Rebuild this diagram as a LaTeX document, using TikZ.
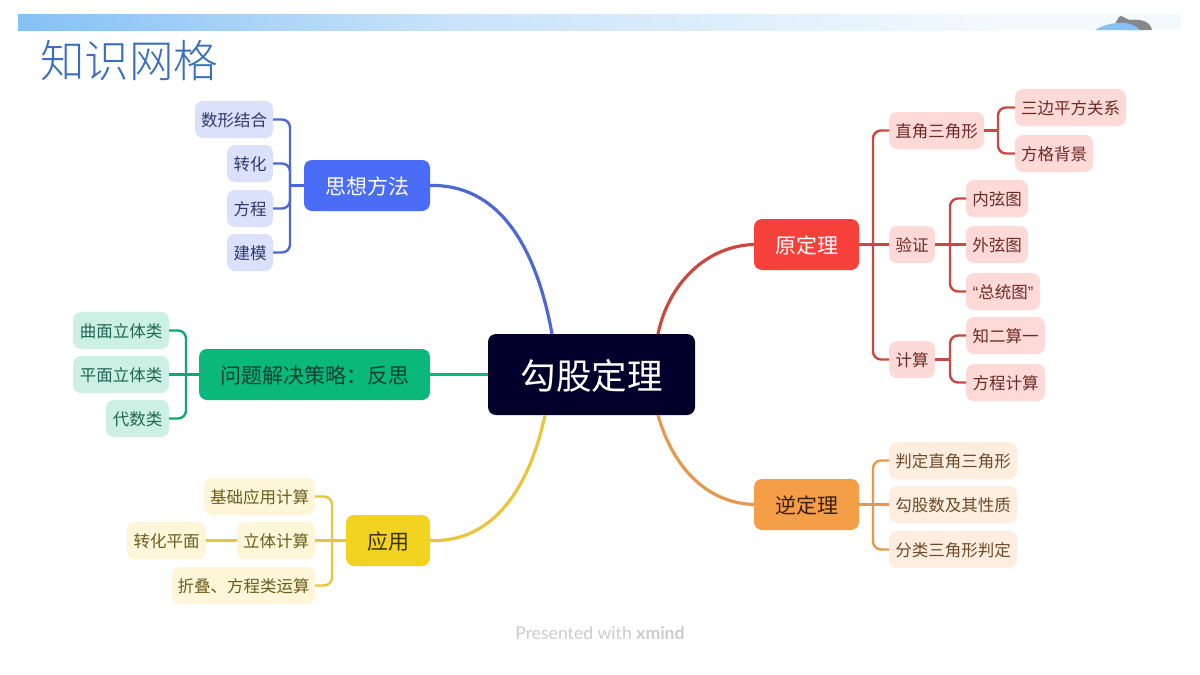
\documentclass[tikz,border=0pt]{standalone}
\usepackage{fontspec}
\setmainfont{Noto Sans CJK SC}
\newfontfamily\titlef{Noto Sans CJK SC Light}
\newfontfamily\latinf{Lato}
\newfontfamily\quotef{Liberation Sans}
\usetikzlibrary{calc}
\definecolor{bline}{HTML}{4E68D2}\definecolor{bmain}{HTML}{4A6CF7}\definecolor{bleaf}{HTML}{DBE0FB}\definecolor{btext}{HTML}{2F3A6A}
\definecolor{rline}{HTML}{C9483F}\definecolor{rmain}{HTML}{F5413A}\definecolor{rleaf}{HTML}{FDD9D7}\definecolor{rtext}{HTML}{6B2A28}
\definecolor{gline}{HTML}{10A678}\definecolor{gmain}{HTML}{0AB87C}\definecolor{gleaf}{HTML}{CCF0E4}\definecolor{gtext}{HTML}{1F6650}\definecolor{gdark}{HTML}{123F30}
\definecolor{yline}{HTML}{E8C53A}\definecolor{ymain}{HTML}{F2D31F}\definecolor{yleaf}{HTML}{FDF6D8}\definecolor{ytext}{HTML}{6B5D1E}\definecolor{ydark}{HTML}{3A3000}
\definecolor{oline}{HTML}{E39A50}\definecolor{omain}{HTML}{F59E48}\definecolor{oleaf}{HTML}{FDEEE0}\definecolor{otext}{HTML}{6E4A2A}\definecolor{odark}{HTML}{3D1D00}
\definecolor{rootc}{HTML}{00002A}\definecolor{titlec}{HTML}{3A6FC0}
\definecolor{band1}{HTML}{85C1F5}\definecolor{band2}{HTML}{C8E3FA}\definecolor{band3}{HTML}{F3FAFE}
\tikzset{
 boxn/.style={inner sep=0pt,outer sep=0pt,rounded corners=8pt,align=center},
 leafn/.style={boxn,font=\fontsize{16.5}{16.5}\selectfont},
 mainn/.style={boxn,font=\fontsize{21}{21}\selectfont},
 bleafn/.style={leafn,fill=bleaf,text=btext},
 rleafn/.style={leafn,fill=rleaf,text=rtext},
 gleafn/.style={leafn,fill=gleaf,text=gtext},
 yleafn/.style={leafn,fill=yleaf,text=ytext},
 oleafn/.style={leafn,fill=oleaf,text=otext},
 conn/.style={line width=2.4pt,rounded corners=8pt},
 bconn/.style={conn,draw=bline},
 rconn/.style={conn,draw=rline},
 gconn/.style={conn,draw=gline},
 yconn/.style={conn,draw=yline},
 oconn/.style={conn,draw=oline},
 curve/.style={line width=3.2pt},
}
\newcommand\nd[7]{\node[#1,minimum width={(#4-#3)*1pt},minimum height={(#6-#5)*1pt},text depth=0pt] (#2) at ({(#3+#4)/2},{(#5+#6)/2}) {\raisebox{-0.6pt}{#7}};}
\begin{document}
\begin{tikzpicture}[x=1pt,y=-1pt]
\useasboundingbox (0,0) rectangle (1200,675);
\fill[white] (0,0) rectangle (1200,675);
% header band
\shade[left color=band1,right color=band2] (18,14) rectangle (450,30);
\shade[left color=band2,right color=band3] (450,14) rectangle (1000,30);
\fill[band3] (1000,14) rectangle (1181,30);
\fill[gray!90!black!85] (1115,24) .. controls (1117,20) and (1119,16) .. (1121,16) .. controls (1125,17) and (1127,20) .. (1131,20) .. controls (1138,19) and (1150,20) .. (1152,30) -- (1125,30) -- cycle;
\fill[band1] (1095,30) .. controls (1103,25) and (1115,22) .. (1126,23) .. controls (1132,24) and (1137,27) .. (1140,30) -- cycle;
% title
\node[inner sep=0pt,anchor=west,text=titlec,font=\titlef\fontsize{44.5}{44.5}\selectfont] (title) at (40,61) {知识网格};
% footer
\node[inner sep=0pt,text=gray!40,font=\latinf\fontsize{17.6}{17.6}\selectfont] (foot) at (600,633) {Presented with \textbf{xmind}};
% main boxes
\nd{boxn,fill=rootc,text=white,font=\fontsize{35.5}{35.5}\selectfont}{root}{488}{695}{334}{415}{勾股定理}
\nd{mainn,fill=bmain,text=white}{mb}{304}{430}{160}{211}{思想方法}
\nd{mainn,fill=rmain,text=white}{mr}{754}{859}{219}{270}{原定理}
\nd{mainn,fill=gmain,text=gdark}{mg}{199}{430}{349}{400}{问题解决策略：反思}
\nd{mainn,fill=ymain,text=ydark}{my}{346}{430}{515}{566}{应用}
\nd{mainn,fill=omain,text=odark}{mo}{754}{859}{479}{530}{逆定理}
\coordinate (rb) at (552,334);\coordinate (rr) at (658,334);\coordinate (ry) at (545,415);\coordinate (ro) at (658,415);
\draw[curve,draw=bline] (mb.east) .. controls (495,184) and (535,240) .. (rb);
\draw[curve,draw=rline] (mr.west) .. controls (705,246) and (668,285) .. (rr);
\draw[curve,draw=gmain] (mg.east) -- (root.west);
\draw[curve,draw=yline] (my.east) .. controls (495,543) and (530,485) .. (ry);
\draw[curve,draw=oline] (mo.west) .. controls (705,503) and (672,465) .. (ro);
% blue leaves
\nd{bleafn}{b1}{195}{273}{101}{138}{数形结合}
\nd{bleafn}{b2}{227}{273}{145}{182}{转化}
\nd{bleafn}{b3}{227}{273}{190}{227}{方程}
\nd{bleafn}{b4}{227}{273}{234}{271}{建模}
\coordinate (tb) at (290,185.5);
\draw[bconn] (b1.east) -| (tb);
\draw[bconn] (b4.east) -| (tb);
\draw[bconn] (b2.east) -| (tb);
\draw[bconn] (b3.east) -| (tb);
\draw[bconn] (tb) -- (mb.west);
% green leaves
\nd{gleafn}{g1}{73}{169}{312}{349}{曲面立体类}
\nd{gleafn}{g2}{73}{169}{356}{393}{平面立体类}
\nd{gleafn}{g3}{106}{169}{400}{437}{代数类}
\coordinate (tg) at (186,374.5);
\draw[gconn] (g1.east) -| (tg);
\draw[gconn] (g3.east) -| (tg);
\draw[gconn] (g2.east) -- (mg.west);
% yellow leaves
\nd{yleafn}{y1}{204}{315}{478}{515}{基础应用计算}
\nd{yleafn}{y2}{237}{315}{522}{559}{立体计算}
\nd{yleafn}{y3}{127}{206}{522}{559}{转化平面}
\nd{yleafn}{y4}{172}{315}{567}{604}{折叠、方程类运算}
\coordinate (ty) at (332,540.5);
\draw[yconn] (y1.east) -| (ty);
\draw[yconn] (y4.east) -| (ty);
\draw[yconn] (y2.east) -- (my.west);
\draw[yconn] (y3.east) -- (y2.west);
% red leaves
\nd{rleafn}{r1}{889}{984}{112}{149}{直角三角形}
\nd{rleafn}{r2}{889}{935}{226}{263}{验证}
\nd{rleafn}{r3}{889}{935}{341}{378}{计算}
\nd{rleafn}{r11}{1015}{1126}{89}{126}{三边平方关系}
\nd{rleafn}{r12}{1015}{1093}{135}{172}{方格背景}
\nd{rleafn}{r21}{966}{1028}{180}{217}{内弦图}
\nd{rleafn}{r22}{966}{1028}{226}{263}{外弦图}
\nd{rleafn}{r23}{966}{1040}{273}{310}{{\quotef “}总统图{\quotef ”}}
\nd{rleafn}{r31}{966}{1045}{317}{354}{知二算一}
\nd{rleafn}{r32}{966}{1045}{364}{401}{方程计算}
\coordinate (tr) at (873,244.5);
\coordinate (tr1) at (998,130.5);
\coordinate (tr2) at (950,244.5);
\coordinate (tr3) at (950,359.5);
\draw[rconn] (tr) |- (r1.west);
\draw[rconn] (tr) |- (r3.west);
\draw[rconn] (mr.east) -- (r2.west);
\draw[rconn] (r1.east) -- (tr1);
\draw[rconn] (tr1) |- (r11.west);
\draw[rconn] (tr1) |- (r12.west);
\draw[rconn] (r2.east) -- (r22.west);
\draw[rconn] (tr2) |- (r21.west);
\draw[rconn] (tr2) |- (r23.west);
\draw[rconn] (r3.east) -- (tr3);
\draw[rconn] (tr3) |- (r31.west);
\draw[rconn] (tr3) |- (r32.west);
% orange leaves
\nd{oleafn}{o1}{889}{1017}{442}{479}{判定直角三角形}
\nd{oleafn}{o2}{889}{1017}{486}{523}{勾股数及其性质}
\nd{oleafn}{o3}{889}{1017}{531}{568}{分类三角形判定}
\coordinate (to) at (873,504.5);
\draw[oconn] (to) |- (o1.west);
\draw[oconn] (to) |- (o3.west);
\draw[oconn] (mo.east) -- (o2.west);
\end{tikzpicture}
\end{document}
